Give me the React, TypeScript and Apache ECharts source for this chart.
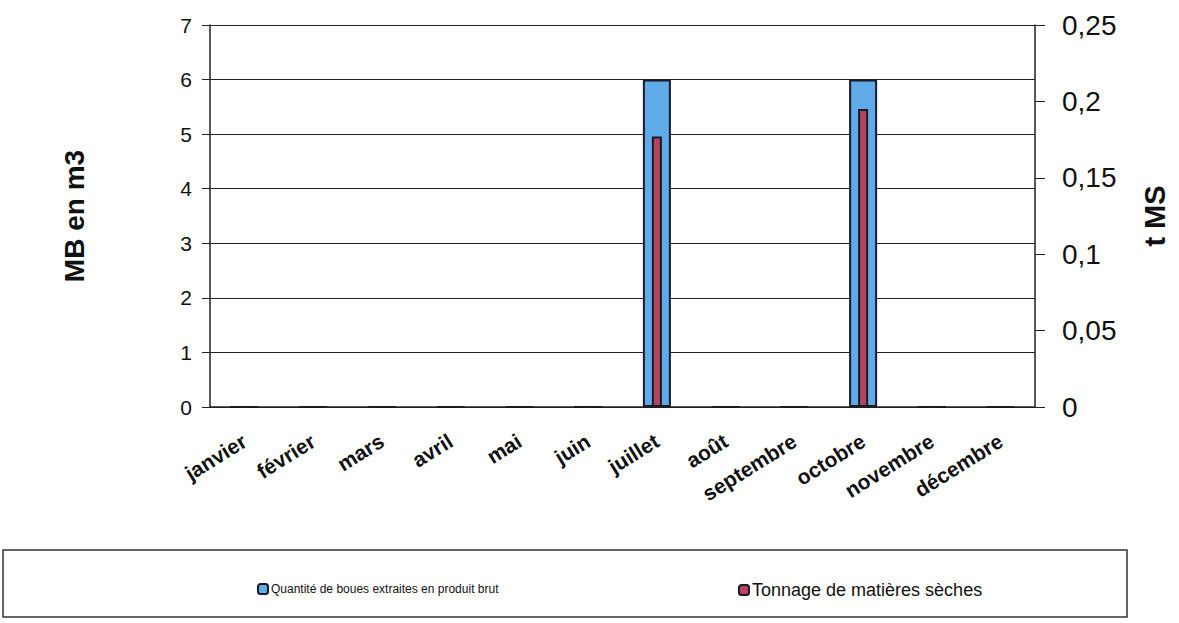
import React, { useEffect, useRef } from "react";
import * as echarts from "echarts";

const months = [
  "janvier", "février", "mars", "avril", "mai", "juin",
  "juillet", "août", "septembre", "octobre", "novembre", "décembre",
];
const boues = [0, 0, 0, 0, 0, 0, 6, 0, 0, 6, 0, 0];
const tonnage = [0, 0, 0, 0, 0, 0, 0.177, 0, 0, 0.195, 0, 0];
const seriesNames = ["Quantité de boues extraites en produit brut", "Tonnage de matières sèches"];
const leftAxisName = "MB en m3";
const rightAxisName = "t MS";

export default function App() {
  const ref = useRef<HTMLDivElement>(null);
  useEffect(() => {
    document.body.style.margin = "0";
    const chart = echarts.init(ref.current!, null, { renderer: "svg" });
    const font = "Liberation Sans, Arial, sans-serif";
    chart.setOption({
      animation: false,
      backgroundColor: "#ffffff",
      textStyle: { fontFamily: font },
      grid: { left: 210, right: 144, top: 25, bottom: 216 },
      legend: [
        {
          data: [seriesNames[0]],
          left: 252, top: 578, itemWidth: 10, itemHeight: 10, itemGap: 4,
          textStyle: { fontSize: 12, color: "#111", fontFamily: font, padding: [0, 0, 0, -2] },
          selectedMode: false,
        },
        {
          data: [seriesNames[1]],
          left: 733, top: 576, itemWidth: 10, itemHeight: 10,
          textStyle: { fontSize: 18, color: "#111", fontFamily: font, padding: [0, 0, 0, -2] },
          selectedMode: false,
        },
      ],
      graphic: [
        {
          type: "rect",
          shape: { x: 3, y: 550, width: 1124, height: 67 },
          style: { fill: "none", stroke: "#333", lineWidth: 1.5 },
        },
      ],
      xAxis: [
        {
          type: "category",
          data: months,
          boundaryGap: true,
          axisLine: { lineStyle: { color: "#222", width: 1.5 } },
          axisTick: { length: 8, lineStyle: { color: "#222" } },
          axisLabel: {
            rotate: 32, margin: 32, fontSize: 21, fontWeight: "bold",
            color: "#111", fontFamily: font,
          },
        },
        {
          type: "category",
          data: months,
          show: false,
          gridIndex: 0,
        },
      ],
      yAxis: [
        {
          type: "value", min: 0, max: 7, interval: 1,
          name: leftAxisName, nameLocation: "middle", nameGap: 122, nameRotate: 90,
          nameTextStyle: { fontSize: 28, fontWeight: "bold", color: "#111", fontFamily: font },
          axisLine: { show: true, lineStyle: { color: "#222", width: 1.5 } },
          axisTick: { show: true, length: 8, lineStyle: { color: "#222" } },
          axisLabel: { fontSize: 21, color: "#111", margin: 18, fontFamily: font },
          splitLine: { show: true, lineStyle: { color: "#222", width: 1 } },
        },
        {
          type: "value", min: 0, max: 0.25, interval: 0.05,
          name: rightAxisName, nameLocation: "middle", nameGap: 105, nameRotate: 90,
          nameTextStyle: { fontSize: 29, fontWeight: "bold", color: "#111", fontFamily: font },
          axisLine: { show: true, lineStyle: { color: "#222", width: 1.5 } },
          axisTick: { show: true, length: 10, lineStyle: { color: "#222" } },
          axisLabel: {
            fontSize: 28, color: "#111", margin: 27, fontFamily: font,
            formatter: (v: number) => String(Math.round(v * 100) / 100).replace(".", ","),
          },
          splitLine: { show: false },
        },
      ],
      series: [
        {
          name: seriesNames[0],
          type: "bar",
          xAxisIndex: 0, yAxisIndex: 0,
          data: boues,
          barWidth: 28,
          itemStyle: { color: "#5eabe8", borderColor: "#1a1a2a", borderWidth: 2 },
        },
        {
          name: seriesNames[1],
          type: "bar",
          xAxisIndex: 1, yAxisIndex: 1,
          data: tonnage,
          barWidth: 10,
          itemStyle: { color: "#b5445c", borderColor: "#1a1a2a", borderWidth: 2 },
        },
      ],
    });
    return () => chart.dispose();
  }, []);
  return <div ref={ref} style={{ width: 1179, height: 623 }} />;
}
